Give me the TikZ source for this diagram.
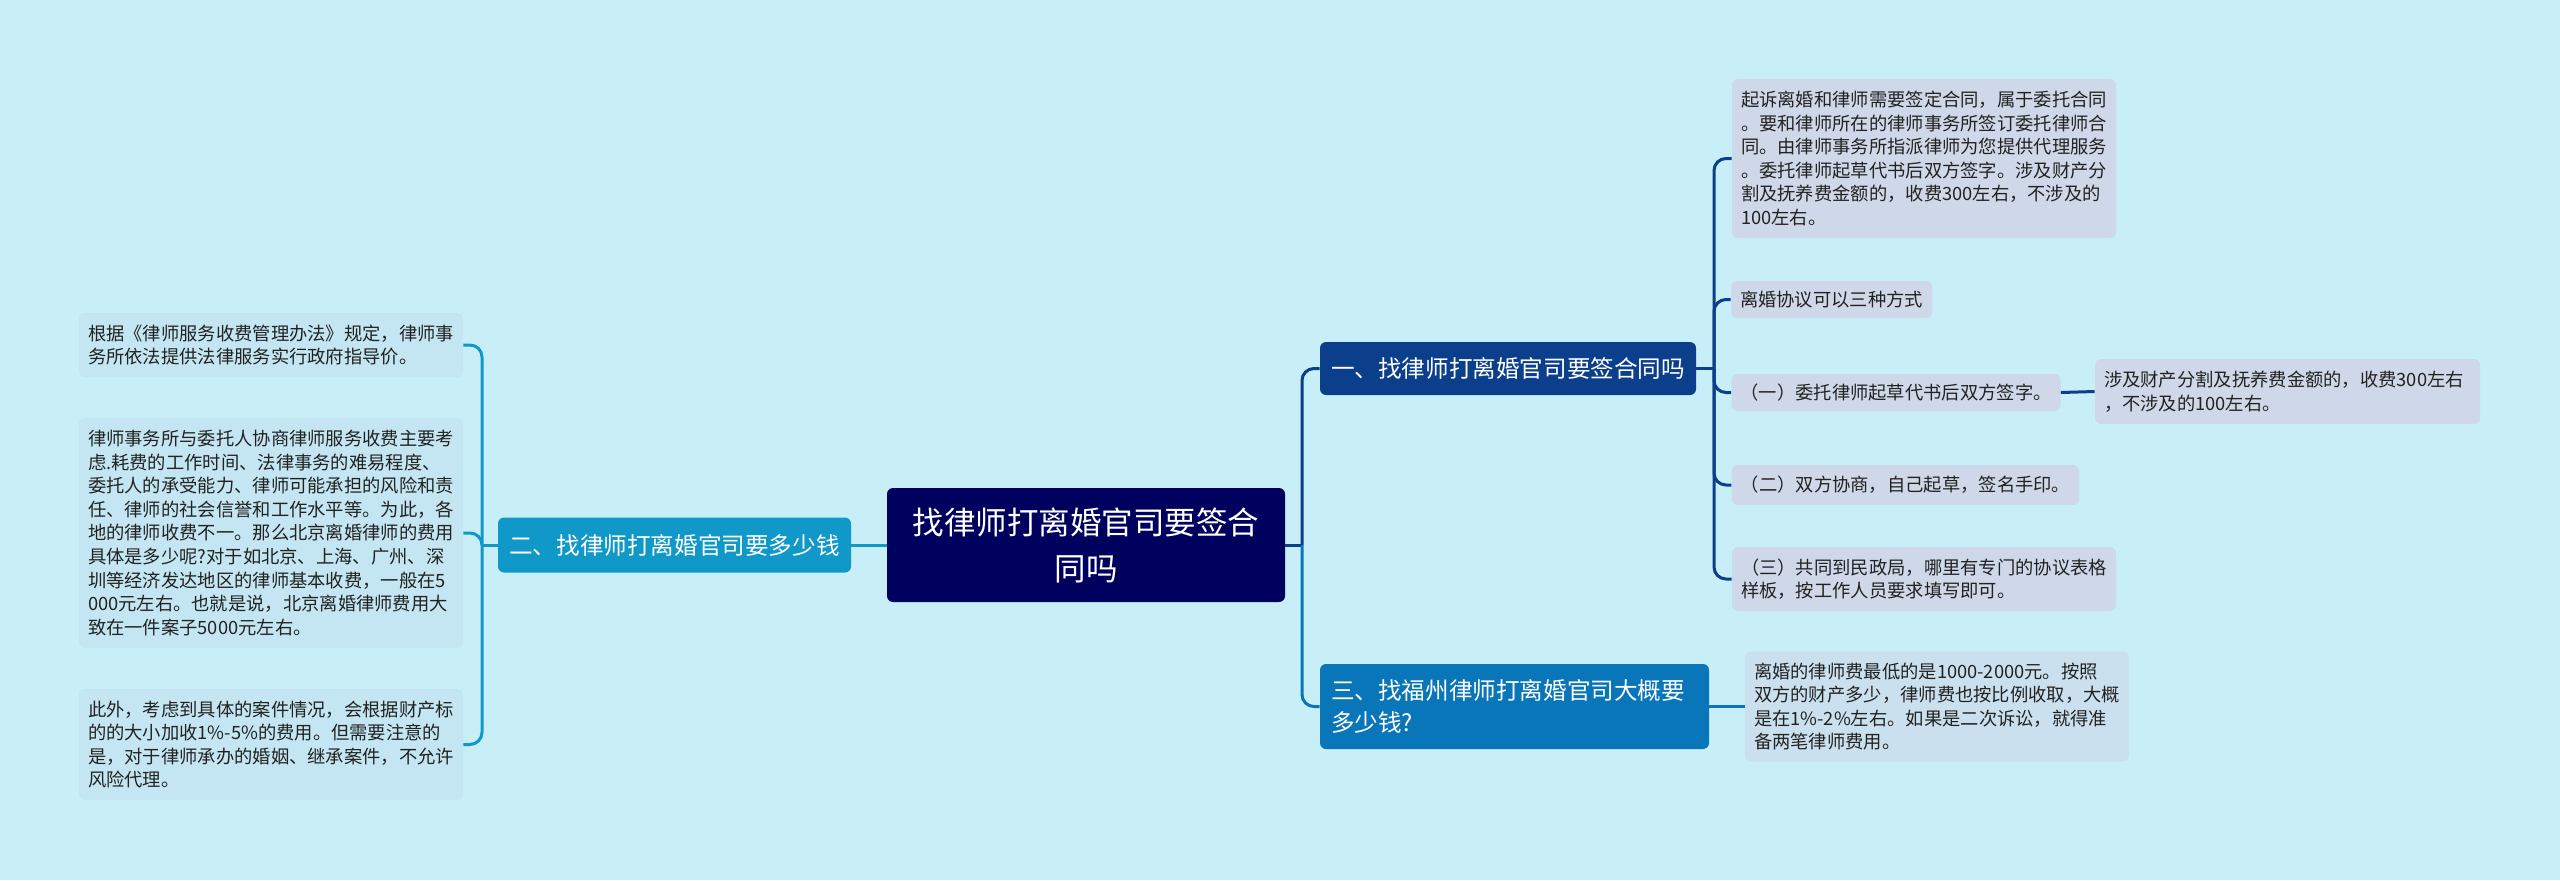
\documentclass[tikz,border=0pt]{standalone}
\usepackage{fontspec}
\newfontfamily\cjk{Noto Sans CJK SC}
\definecolor{bgc}{HTML}{C8EFF7}
\definecolor{rootc}{HTML}{00005E}
\definecolor{b1c}{HTML}{0B3F8C}
\definecolor{b2c}{HTML}{1098C8}
\definecolor{b3c}{HTML}{0876B8}
\definecolor{leafa}{HTML}{CED8E8}
\definecolor{leafb}{HTML}{C3E6F2}
\definecolor{leafc}{HTML}{CBE0EE}
\definecolor{txt}{HTML}{222222}
\begin{document}
\begin{tikzpicture}[x=0.5pt,y=-0.5pt,
  box/.style={rectangle, rounded corners=3pt, inner xsep=4.5pt, inner ysep=0pt, align=left,
    font={\cjk\fontsize{9.15pt}{11.8pt}\selectfont}, text=txt},
  lfa/.style={box, fill=leafa},
  lfb/.style={box, fill=leafb},
  lfc/.style={box, fill=leafc},
  branch/.style={rectangle, rounded corners=3pt, inner xsep=5.5pt, inner ysep=0pt, text=white,
    font={\cjk\fontsize{11.8pt}{15.85pt}\selectfont}},
  conn/.style={line width=1.5pt, rounded corners=6pt}
]
\fill[bgc] (0,0) rectangle (2560,880);
\path[use as bounding box] (0,0) rectangle (2560,880);

% root
\node[rectangle, rounded corners=3pt, fill=rootc, text=white, align=center,
  minimum width=199pt, minimum height=57pt, inner sep=0pt,
  font={\cjk\fontsize{15.75pt}{23pt}\selectfont}] (root) at (1086,545)
  {找律师打离婚官司要签合\\同吗};

% branches
\node[branch, fill=b1c, text width=177pt, align=left, minimum height=26.5pt] (b1) at (1508,368.5)
  {一、找律师打离婚官司要签合同吗};
\node[branch, fill=b3c, text width=183.5pt, align=left, minimum height=42.5pt] (b3) at (1514.5,706.5)
  {三、找福州律师打离婚官司大概要\\多少钱?};
\node[branch, fill=b2c, minimum width=176.5pt, minimum height=27.5pt, align=center] (b2) at (674.5,545)
  {二、找律师打离婚官司要多少钱};

% right leaves (branch 1)
\node[lfa, text width=183pt, minimum height=79.5pt] (l1) at (1924,158.5)
  {起诉离婚和律师需要签定合同，属于委托合同\\。要和律师所在的律师事务所签订委托律师合\\同。由律师事务所指派律师为您提供代理服务\\。委托律师起草代书后双方签字。涉及财产分\\割及抚养费金额的，收费300左右，不涉及的\\100左右。};
\node[lfa, text width=91.5pt, minimum height=18.5pt] (l2) at (1831.5,299.5)
  {离婚协议可以三种方式};
\node[lfa, text width=155.5pt, minimum height=18.5pt] (l3) at (1896,392.5)
  {（一）委托律师起草代书后双方签字。};
\node[lfa, text width=183.5pt, minimum height=32.5pt] (l3a) at (2287.5,391.5)
  {涉及财产分割及抚养费金额的，收费300左右\\，不涉及的100左右。};
\node[lfa, text width=164.7pt, minimum height=20pt] (l4) at (1905.5,485)
  {（二）双方协商，自己起草，签名手印。};
\node[lfa, text width=183pt, minimum height=32pt] (l5) at (1924,579)
  {（三）共同到民政局，哪里有专门的协议表格\\样板，按工作人员要求填写即可。};

% branch 3 leaf
\node[lfc, text width=183pt, minimum height=55pt] (l6) at (1937,706.5)
  {离婚的律师费最低的是1000-2000元。按照\\双方的财产多少，律师费也按比例收取，大概\\是在1\%-2\%左右。如果是二次诉讼，就得准\\备两笔律师费用。};

% left leaves (branch 2)
\node[lfb, text width=183pt, minimum height=32pt] (ll1) at (271,345)
  {根据《律师服务收费管理办法》规定，律师事\\务所依法提供法律服务实行政府指导价。};
\node[lfb, text width=183pt, minimum height=115pt] (ll2) at (271,533)
  {律师事务所与委托人协商律师服务收费主要考\\虑.耗费的工作时间、法律事务的难易程度、\\委托人的承受能力、律师可能承担的风险和责\\任、律师的社会信誉和工作水平等。为此，各\\地的律师收费不一。那么北京离婚律师的费用\\具体是多少呢?对于如北京、上海、广州、深\\圳等经济发达地区的律师基本收费，一般在5\\000元左右。也就是说，北京离婚律师费用大\\致在一件案子5000元左右。};
\node[lfb, text width=183pt, minimum height=55.5pt] (ll3) at (271,744.5)
  {此外，考虑到具体的案件情况，会根据财产标\\的的大小加收1\%-5\%的费用。但需要注意的\\是，对于律师承办的婚姻、继承案件，不允许\\风险代理。};

% connectors
\coordinate (sr) at (1302,545);
\coordinate (s1) at (1714,368.5);
\coordinate (sl) at (482,545);

\draw[conn, b1c] (root.east) -- (sr);
\draw[conn, b1c] (sr) |- (b1.west);
\draw[conn, b3c] (sr) |- (b3.west);

\draw[conn, b1c] (b1.east) -- (s1);
\draw[conn, b1c] (s1) |- (l1.west);
\draw[conn, b1c] (s1) |- (l2.west);
\draw[conn, b1c] (s1) |- (l3.west);
\draw[conn, b1c] (s1) |- (l4.west);
\draw[conn, b1c] (s1) |- (l5.west);
\draw[conn, b1c] (l3.east) -- (l3a.west);

\draw[conn, b3c] (b3.east) -- (l6.west);

\draw[conn, b2c] (root.west) -- (b2.east);
\draw[conn, b2c] (b2.west) -- (sl);
\draw[conn, b2c] (sl) |- (ll1.east);
\draw[conn, b2c] (sl) |- (ll2.east);
\draw[conn, b2c] (sl) |- (ll3.east);
\end{tikzpicture}
\end{document}
